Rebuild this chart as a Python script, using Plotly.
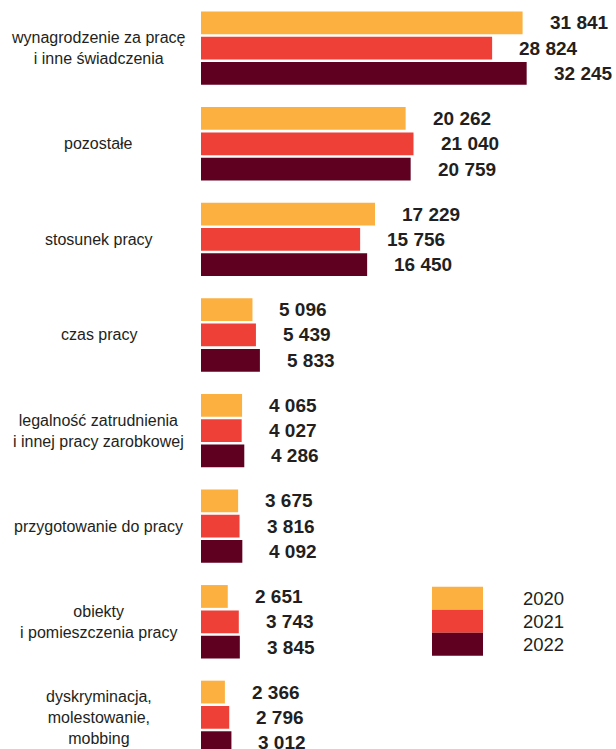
import plotly.graph_objects as go

categories = [
    "wynagrodzenie za pracę<br>i inne świadczenia",
    "pozostałe",
    "stosunek pracy",
    "czas pracy",
    "legalność zatrudnienia<br>i innej pracy zarobkowej",
    "przygotowanie do pracy",
    "obiekty<br>i pomieszczenia pracy",
    "dyskryminacja,<br>molestowanie,<br>mobbing",
]
years = ["2020", "2021", "2022"]
v2020 = [31841, 20262, 17229, 5096, 4065, 3675, 2651, 2366]
v2021 = [28824, 21040, 15756, 5439, 4027, 3816, 3743, 2796]
v2022 = [32245, 20759, 16450, 5833, 4286, 4092, 3845, 3012]

colors = ["#FBB040", "#EE4036", "#5F0020"]
text_color = "#231F20"


def fmt(v):
    # Polish thousands separator: space
    return f"{v:,}".replace(",", " ")


fig = go.Figure()
for year, vals, col in zip(years, [v2020, v2021, v2022], colors):
    fig.add_trace(go.Bar(
        y=list(range(len(categories))), x=vals, orientation="h",
        name=year, marker=dict(color=col, line=dict(width=0)),
        showlegend=False, hoverinfo="skip",
    ))

# value labels next to the bar ends
n = len(years)
slot = (1 - 0.206) / n
for i, vals in enumerate([v2020, v2021, v2022]):
    for k, v in enumerate(vals):
        fig.add_annotation(
            x=v, y=k - (1 - 0.206) / 2 + slot * (i + 0.5),
            text="<b>" + fmt(v) + "</b>", showarrow=False, xanchor="left", yanchor="middle",
            xshift=25, font=dict(family="Liberation Sans", size=19, color=text_color),
        )

# category labels, centred in the left margin
for k, cat in enumerate(categories):
    fig.add_annotation(
        xref="paper", x=-0.246, y=k, text=cat, showarrow=False,
        xanchor="center", yanchor="middle", align="center",
        font=dict(family="Liberation Sans", size=16, color=text_color),
    )

# legend drawn as stacked swatches
sw_top = 1 - 586.7 / 749
sw_h = 23 / 749
for i, (year, col) in enumerate(zip(years, colors)):
    y1 = sw_top - i * sw_h
    y0 = y1 - sw_h
    fig.add_shape(type="rect", xref="paper", yref="paper",
                  x0=(432 - 201) / 415, x1=(483 - 201) / 415, y0=y0, y1=y1,
                  fillcolor=col, line=dict(width=0), layer="above")
    fig.add_annotation(xref="paper", yref="paper", x=(521 - 201) / 415,
                       y=(y0 + y1) / 2, text=year, showarrow=False,
                       xanchor="left", yanchor="middle",
                       font=dict(family="Liberation Sans", size=18.5, color=text_color))

fig.update_layout(
    width=616, height=749,
    margin=dict(l=201, r=0, t=0, b=0),
    barmode="group", bargap=0.206, bargroupgap=0.1,
    plot_bgcolor="white", paper_bgcolor="white",
    xaxis=dict(range=[0, 41090], visible=False, fixedrange=True),
    yaxis=dict(range=[7.331, -0.504], visible=False, fixedrange=True),
)

fig.write_html("out.html", config={"displayModeBar": False},
               post_script="document.body.style.margin='0';")
